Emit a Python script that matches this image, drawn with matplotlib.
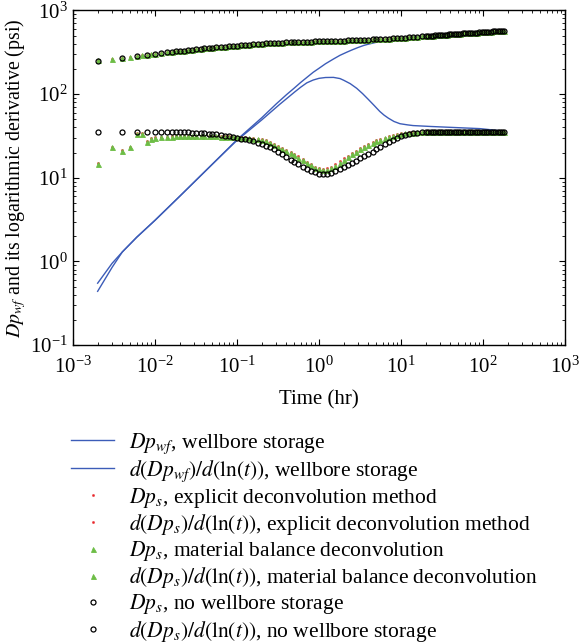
"""
Log-log diagnostic plot: pressure change and its logarithmic derivative
with wellbore storage, compared to deconvolved results (explicit method,
material balance deconvolution) and the no-wellbore-storage response.
"""

import matplotlib
matplotlib.use("Agg")
import matplotlib.pyplot as plt

# ==========================================
# Data (time in hr, pressure in psi)
# ==========================================

# wellbore storage: measured pressure drop and its derivative
t_wbs = [0.002, 0.003, 0.004, 0.006, 0.01, 0.02, 0.05, 0.1, 0.2, 0.3, 0.4,
         0.5, 0.6, 0.7, 0.85, 1.0, 1.2, 1.5, 1.8, 2.18, 2.5, 3.0, 3.5, 4.0,
         4.6, 5.5, 7.0, 10, 15, 20, 30, 50, 100, 180]
dp_wf = [0.44, 0.85, 1.3, 1.95, 3.1, 6.0, 14.5, 28.5, 52, 76, 98,
         118, 138, 156, 182, 203, 230, 262, 290, 316, 335, 360, 380, 394,
         407, 424, 444, 467, 485, 494, 508, 525, 548, 568]

t_wbs_der = [0.002, 0.003, 0.004, 0.006, 0.01, 0.02, 0.05, 0.1, 0.2, 0.33,
             0.5, 0.6, 0.71, 0.85, 1.0, 1.2, 1.5, 1.8, 2.0, 2.4, 2.88, 3.4,
             4.0, 4.7, 5.5, 6.2, 7.0, 8.2, 9.7, 12, 14, 22.6, 40, 92, 180]
dp_wf_der = [0.55, 0.95, 1.3, 1.95, 3.1, 6.0, 14.5, 28, 49, 75,
             105, 121, 136, 147, 154, 157.5, 158, 153, 146, 133, 117, 101,
             86, 73, 62, 56, 51.5, 47, 44.2, 42.8, 42, 41, 40, 38.6, 36]

# sampling times shared by the deconvolved / reference series after 0.01 hr
t_common = [0.010, 0.012, 0.014, 0.016, 0.018, 0.020,
            0.0225, 0.025, 0.028, 0.032, 0.036, 0.040,
            0.045, 0.050, 0.056, 0.063, 0.071, 0.080,
            0.090, 0.10, 0.112, 0.126, 0.141, 0.158,
            0.178, 0.20, 0.224, 0.25, 0.28, 0.32,
            0.355, 0.40, 0.45, 0.50, 0.56, 0.63,
            0.71, 0.80, 0.90, 1.0, 1.12, 1.26,
            1.41, 1.58, 1.78, 2.0, 2.24, 2.5,
            2.8, 3.2, 3.55, 4.0, 4.5, 5.0,
            5.6, 6.3, 7.1, 8.0, 9.0, 10,
            11.2, 12.6, 14.1, 15.8, 17.8, 20,
            21.5, 23, 24.5, 26, 28, 30,
            32, 34, 36, 38.5, 41, 44,
            47, 50, 53, 57, 61, 65,
            69, 74, 79, 84, 90, 96,
            102, 109, 116, 124, 132, 140,
            150, 160, 170, 180]

# pressure without wellbore storage (all three Dp_s curves overlap here)
dp_s_common = [302, 308.4, 313.8, 318.5, 322.6, 326.3,
               330.4, 334.1, 338.0, 342.6, 346.6, 350.2,
               354.2, 357.7, 361.5, 365.3, 369.1, 372.9,
               376.5, 379.7, 383.0, 386.4, 389.6, 392.7,
               395.9, 398.9, 401.7, 404.3, 406.8, 409.6,
               411.7, 413.9, 415.9, 417.6, 419.3, 420.9,
               422.5, 424.0, 425.4, 426.6, 427.9, 429.2,
               430.5, 431.8, 433.3, 434.8, 436.4, 438.0,
               439.8, 442.0, 443.8, 446.0, 448.3, 450.5,
               453.1, 455.9, 459.0, 462.3, 465.8, 469.0,
               472.6, 476.5, 480.3, 484.2, 488.3, 492.4,
               494.9, 497.3, 499.5, 501.6, 504.2, 506.7,
               508.9, 511.1, 513.1, 515.5, 517.7, 520.2,
               522.5, 524.7, 526.7, 529.3, 531.7, 533.9,
               536.0, 538.5, 540.8, 542.9, 545.3, 547.6,
               549.7, 552.1, 554.3, 556.6, 558.8, 560.9,
               563.3, 565.6, 567.7, 569.7]

# no wellbore storage
t_ns_early = [0.002, 0.004, 0.006, 0.008]
dp_ns_early = [246, 270, 284, 294]
der_ns_early = [35, 35, 35, 35]
der_ns_common = [35, 35, 35, 35, 35, 35,
                 34.9, 34.8, 34.6, 34.4, 34.2, 33.9,
                 33.6, 33.3, 32.9, 32.4, 31.8, 31.2,
                 30.5, 29.8, 29.3, 28.7, 28.0, 27.2,
                 26.3, 25.3, 24.2, 23.0, 22.0, 20.5,
                 19.3, 17.8, 16.5, 15.5, 14.5, 13.6,
                 12.8, 12.1, 11.6, 11.2, 11.0, 11.1,
                 11.4, 11.9, 12.6, 13.4, 14.2, 15.0,
                 15.9, 17.0, 18.0, 19.2, 20.5, 21.8,
                 23.3, 25.0, 26.8, 28.5, 30.1, 31.3,
                 32.5, 33.5, 34.1, 34.5, 34.8, 35.0,
                 35.0, 35.0, 35.1, 35.1, 35.1, 35.2,
                 35.2, 35.2, 35.2, 35.3, 35.3, 35.3,
                 35.3, 35.3, 35.4, 35.4, 35.4, 35.4,
                 35.4, 35.4, 35.5, 35.5, 35.5, 35.5,
                 35.5, 35.5, 35.5, 35.5, 35.5, 35.5,
                 35.5, 35.5, 35.5, 35.5]

# material balance deconvolution
t_mb_early = [0.002, 0.003, 0.004, 0.005, 0.006, 0.007, 0.008, 0.009]
dp_mb_early = [252, 263, 270, 278, 284, 289, 294, 298]
der_mb_early = [14.7, 23.1, 21.1, 23.1, 33.7, 33.7, 27.0, 29.4]
der_mb_common = [30.2, 30.5, 30.8, 31.0, 31.1, 31.2,
                 31.3, 31.4, 31.4, 31.4, 31.4, 31.3,
                 31.3, 31.2, 31.1, 31.0, 30.9, 30.8,
                 30.6, 30.4, 30.2, 30.0, 29.7, 29.3,
                 28.9, 28.2, 27.3, 26.2, 24.8, 23.3,
                 22.2, 21.0, 19.9, 18.6, 17.4, 16.2,
                 15.1, 14.1, 13.2, 12.6, 12.3, 12.5,
                 13.1, 14.0, 15.2, 16.5, 17.8, 19.0,
                 20.4, 21.8, 23.3, 24.8, 26.2, 27.3,
                 28.4, 29.5, 30.7, 31.8, 32.7, 33.4,
                 34.0, 34.4, 34.7, 34.9, 35.0, 35.1,
                 35.1, 35.2, 35.2, 35.2, 35.2, 35.3,
                 35.3, 35.3, 35.3, 35.3, 35.3, 35.4,
                 35.4, 35.4, 35.4, 35.4, 35.4, 35.4,
                 35.5, 35.5, 35.5, 35.5, 35.5, 35.5,
                 35.5, 35.5, 35.5, 35.5, 35.5, 35.5,
                 35.5, 35.5, 35.5, 35.5]

# explicit deconvolution method
t_ex_early = [0.002, 0.003, 0.004, 0.005, 0.006, 0.007, 0.008, 0.009]
dp_ex_early = [252, 263, 270, 278, 284, 289, 294, 298]
der_ex_early = [14.9, 23.3, 21.3, 23.3, 33.9, 33.9, 27.2, 29.6]
der_ex_common = [30.3, 30.6, 30.9, 31.1, 31.2, 31.3,
                 31.4, 31.5, 31.5, 31.5, 31.5, 31.5,
                 31.5, 31.4, 31.4, 31.3, 31.2, 31.1,
                 30.9, 30.8, 30.6, 30.4, 30.2, 29.8,
                 29.4, 28.8, 27.9, 26.9, 25.5, 24.0,
                 22.9, 21.7, 20.5, 19.2, 18.0, 16.7,
                 15.6, 14.6, 13.6, 13.0, 12.7, 12.9,
                 13.6, 14.5, 15.7, 17.0, 18.4, 19.6,
                 21.0, 22.5, 24.0, 25.5, 26.9, 28.0,
                 29.1, 30.2, 31.4, 32.5, 33.4, 34.0,
                 34.6, 35.0, 35.3, 35.4, 35.5, 35.5,
                 35.5, 35.6, 35.6, 35.6, 35.6, 35.6,
                 35.5, 35.5, 35.5, 35.5, 35.5, 35.5,
                 35.5, 35.5, 35.5, 35.5, 35.5, 35.5,
                 35.5, 35.5, 35.5, 35.5, 35.5, 35.5,
                 35.5, 35.5, 35.5, 35.5, 35.5, 35.5,
                 35.5, 35.5, 35.5, 35.5]

# ==========================================
# Plot
# ==========================================
plt.rcParams['font.family'] = 'serif'
plt.rcParams['font.serif'] = ['Liberation Serif', 'DejaVu Serif']
plt.rcParams['mathtext.fontset'] = 'stix'

BLUE = '#3c5cb8'
GREEN = '#6cbd45'
RED = '#e8262a'

fig = plt.figure(figsize=(5.79, 6.44), dpi=100)
ax = fig.add_axes([0.126, 0.464, 0.850, 0.520])

ax.plot(t_wbs, dp_wf, color=BLUE, lw=1.0,
        label=r'$Dp_{wf}$, wellbore storage')
ax.plot(t_wbs_der, dp_wf_der, color=BLUE, lw=1.0,
        label=r'$d(Dp_{wf})/d(\ln(t))$, wellbore storage')

t_ex = t_ex_early + t_common
t_mb = t_mb_early + t_common
t_ns = t_ns_early + t_common

mk_green = dict(ls='none', marker='^', ms=3.6, mfc=GREEN, mec=GREEN, mew=0.6)
mk_red = dict(ls='none', marker='o', ms=1.6, mfc=RED, mec=RED, mew=0.3)
mk_black = dict(ls='none', marker='o', ms=3.6, mfc='none', mec='black', mew=0.9)

# red dots sit under the triangles, open circles on top
h_ex1, = ax.plot(t_ex, dp_ex_early + dp_s_common, **mk_red,
                 label=r'$Dp_s$, explicit deconvolution method')
h_ex2, = ax.plot(t_ex, der_ex_early + der_ex_common, **mk_red,
                 label=r'$d(Dp_s)/d(\ln(t))$, explicit deconvolution method')
h_mb1, = ax.plot(t_mb, dp_mb_early + dp_s_common, **mk_green,
                 label=r'$Dp_s$, material balance deconvolution')
h_mb2, = ax.plot(t_mb, der_mb_early + der_mb_common, **mk_green,
                 label=r'$d(Dp_s)/d(\ln(t))$, material balance deconvolution')
h_ns1, = ax.plot(t_ns, dp_ns_early + dp_s_common, **mk_black,
                 label=r'$Dp_s$, no wellbore storage')
h_ns2, = ax.plot(t_ns, der_ns_early + der_ns_common, **mk_black,
                 label=r'$d(Dp_s)/d(\ln(t))$, no wellbore storage')

ax.set_xscale('log')
ax.set_yscale('log')
ax.set_xlim(1e-3, 1e3)
ax.set_ylim(1e-1, 1e3)
ax.tick_params(which='both', direction='in', top=True, right=True, labelsize=15)
ax.tick_params(which='major', length=4, width=0.8)
ax.tick_params(axis='x', which='major', pad=8)
ax.tick_params(axis='y', which='major', pad=4)
ax.tick_params(which='minor', length=2, width=0.6)
for sp in ax.spines.values():
    sp.set_linewidth(1.0)

ax.set_xlabel('Time (hr)', fontsize=15, labelpad=9)
ax.set_ylabel(r'$Dp_{wf}$ and its logarithmic derivative (psi)', fontsize=14.3,
              labelpad=1)

lines = ax.get_lines()
handles = [lines[0], lines[1], h_ex1, h_ex2, h_mb1, h_mb2, h_ns1, h_ns2]
fig.legend(handles, [h.get_label() for h in handles],
           loc='upper left', bbox_to_anchor=(0.1226, 0.330),
           frameon=False, fontsize=15.5, numpoints=1, handlelength=2.0,
           handletextpad=0.7, labelspacing=0.1, borderpad=0, borderaxespad=0)

plt.savefig('out.png', dpi=100)
